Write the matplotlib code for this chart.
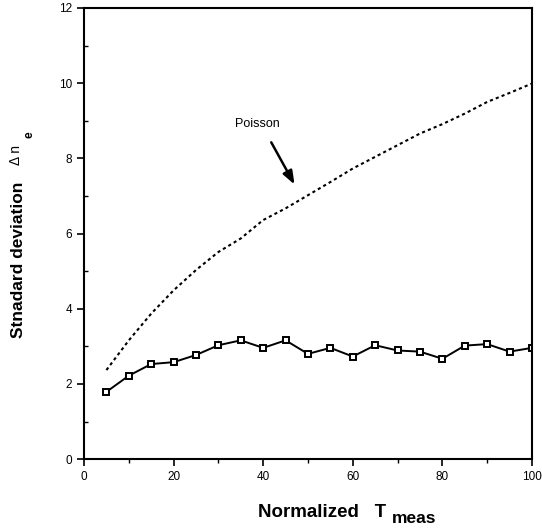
import matplotlib
matplotlib.use("Agg")
import matplotlib.pyplot as plt
from matplotlib.ticker import MultipleLocator

t_meas = [5, 10, 15, 20, 25, 30, 35, 40, 45, 50, 55, 60, 65, 70, 75, 80, 85, 90, 95, 100]
poisson = [2.37, 3.16, 3.87, 4.49, 5.03, 5.51, 5.87, 6.36, 6.67, 7.02, 7.37, 7.73,
           8.04, 8.35, 8.66, 8.91, 9.19, 9.50, 9.74, 9.99]
measured = [1.79, 2.22, 2.53, 2.58, 2.77, 3.03, 3.16, 2.96, 3.16, 2.80, 2.96, 2.73,
            3.03, 2.89, 2.86, 2.67, 3.02, 3.06, 2.86, 2.96]
x_ticks = [0, 20, 40, 60, 80, 100]
y_ticks = [0, 2, 4, 6, 8, 10, 12]

fig = plt.figure(figsize=(5.42, 5.29), dpi=100)
ax = fig.add_axes([0.155, 0.132, 0.8265, 0.853])

ax.plot(t_meas, poisson, color="black", lw=1.5, linestyle=(0, (1.5, 1.5)))
ax.plot(t_meas, measured, color="black", lw=1.4, marker="s", markersize=4.2,
        mfc="white", mec="black", mew=1.4)

ax.set_xlim(0, 100)
ax.set_ylim(0, 12)
ax.set_xticks(x_ticks)
ax.set_yticks(y_ticks)
ax.xaxis.set_minor_locator(MultipleLocator(10))
ax.yaxis.set_minor_locator(MultipleLocator(1))
ax.tick_params(axis="both", which="major", direction="out", length=5, width=1.2,
               labelsize=8.5, colors="black")
ax.tick_params(axis="x", which="minor", direction="out", length=3, width=1.0)
ax.tick_params(axis="y", which="minor", direction="in", length=3, width=1.0)
for lab in ax.get_xticklabels() + ax.get_yticklabels():
    lab.set_family("Liberation Sans")
for s in ax.spines.values():
    s.set_linewidth(1.5)

ax.text(38.6, 8.92, "Poisson", fontsize=9, ha="center", va="center",
        family="Liberation Sans")
ax.annotate("", xy=(47.3, 7.24), xytext=(41.5, 8.49),
            arrowprops=dict(arrowstyle="-|>,head_length=0.8,head_width=0.3",
                            color="black", lw=1.8))

# y-axis label pieces
fig.text(0.034, 0.508, "Stnadard deviation", rotation=90, fontsize=12.5,
         fontweight="bold", family="Liberation Sans", ha="center", va="center")
fig.text(0.029, 0.707, "Δ n", rotation=90, fontsize=10,
         family="Liberation Sans", ha="center", va="center")
fig.text(0.055, 0.745, "e", rotation=90, fontsize=8.5, fontweight="bold",
         family="Liberation Sans", ha="center", va="center")

# x-axis label pieces
fig.text(0.476, 0.032, "Normalized   T", fontsize=13.5, fontweight="bold",
         family="Liberation Sans", ha="left", va="center")
fig.text(0.723, 0.020, "meas", fontsize=12.5, fontweight="bold",
         family="Liberation Sans", ha="left", va="center")

fig.savefig("out.png", dpi=100)
